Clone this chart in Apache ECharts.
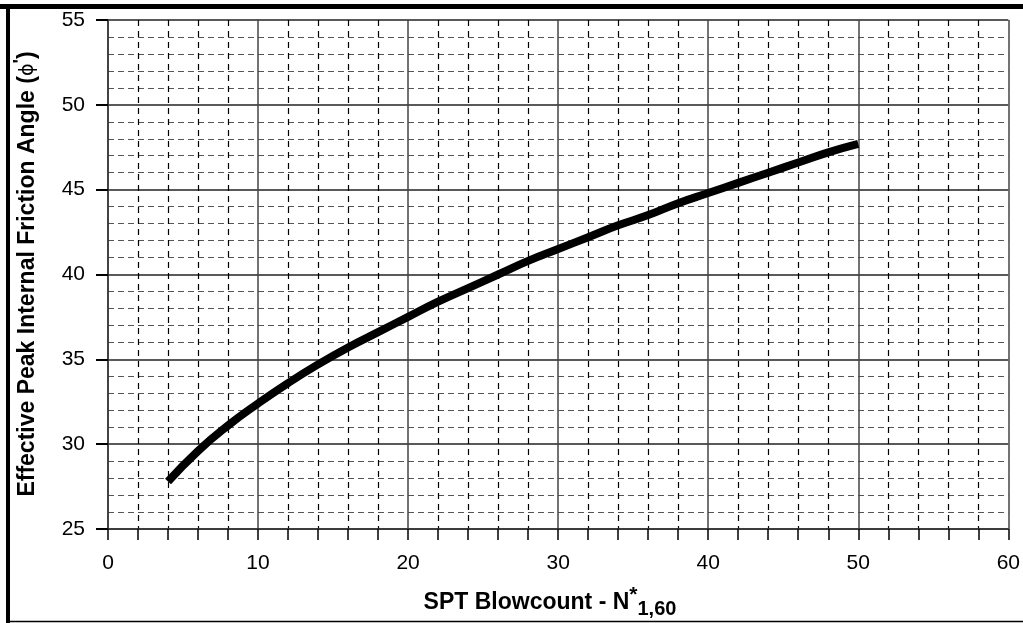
<!DOCTYPE html>
<html>
<head>
<meta charset="utf-8">
<script src="https://cdn.jsdelivr.net/npm/echarts@6/dist/echarts.min.js"></script>
<style>
html,body{margin:0;padding:0;background:#fff;}
#c{width:1023px;height:623px;}
</style>
</head>
<body>
<div id="c"></div>
<script>
var blowcount = [4, 6, 8, 10, 12, 14, 16, 18, 20, 22, 24, 26, 28, 30, 32, 34, 36, 38, 40, 42, 44, 46, 48, 50];
var frictionAngle = [27.8, 29.6, 31.1, 32.4, 33.6, 34.7, 35.7, 36.6, 37.5, 38.4, 39.2, 40.0, 40.8, 41.5, 42.2, 42.9, 43.5, 44.2, 44.8, 45.4, 46.0, 46.6, 47.2, 47.7];
var xTicks = [0, 10, 20, 30, 40, 50, 60];
var yTicks = [25, 30, 35, 40, 45, 50, 55];

var chart = echarts.init(document.getElementById('c'), null, {renderer: 'canvas'});
var pts = blowcount.map(function (v, i) { return [v, frictionAngle[i]]; });
var FONT = 'Liberation Sans, Arial, sans-serif';

chart.setOption({
  animation: false,
  backgroundColor: '#fff',
  grid: {left: 108, right: 12, top: 20, bottom: 94, containLabel: false},
  xAxis: {
    type: 'value', min: xTicks[0], max: xTicks[xTicks.length - 1], interval: 10,
    axisLine: {show: true, onZero: false, lineStyle: {color: '#333', width: 1.5}},
    axisTick: {show: true, inside: false, length: 11, lineStyle: {color: '#000', width: 1.5}},
    minorTick: {show: true, splitNumber: 5, length: 11, lineStyle: {color: '#000', width: 1.5}},
    axisLabel: {margin: 24, fontSize: 21, color: '#000', fontFamily: FONT},
    splitLine: {show: true, lineStyle: {color: '#444', width: 1.5}},
    minorSplitLine: {show: true, lineStyle: {color: '#000', width: 1.2, type: [6, 5]}}
  },
  yAxis: {
    type: 'value', min: yTicks[0], max: yTicks[yTicks.length - 1], interval: 5,
    axisLine: {show: true, onZero: false, lineStyle: {color: '#333', width: 1.5}},
    axisTick: {show: true, inside: false, length: 12, lineStyle: {color: '#000', width: 2}},
    minorTick: {show: false, splitNumber: 5},
    axisLabel: {margin: 23, fontSize: 21, color: '#000', fontFamily: FONT},
    splitLine: {show: true, lineStyle: {color: '#222', width: 1.5}},
    minorSplitLine: {show: true, lineStyle: {color: '#555', width: 1.2, type: [6, 4]}}
  },
  series: [{
    type: 'line', data: pts, showSymbol: false, smooth: true,
    lineStyle: {color: '#000', width: 8, cap: 'butt'}
  }],
  graphic: [
    {type: 'line', shape: {x1: 0, y1: 6.5, x2: 1023, y2: 6.5}, style: {stroke: '#000', lineWidth: 5}, z: 100},
    {type: 'line', shape: {x1: 8, y1: 4, x2: 8, y2: 623}, style: {stroke: '#000', lineWidth: 4}, z: 100},
    {type: 'line', shape: {x1: 6, y1: 621.5, x2: 1023, y2: 621.5}, style: {stroke: '#000', lineWidth: 1.5}, z: 100},
    {type: 'text', x: 550, y: 603, style: {
      text: '{a|SPT Blowcount - N}{sup|*}{sub|1,60}',
      align: 'center', verticalAlign: 'middle',
      rich: {
        a: {fontSize: 23, fontWeight: 'bold', fontFamily: FONT, fill: '#000', height: 26, verticalAlign: 'middle'},
        sup: {fontSize: 21, fontWeight: 'bold', fontFamily: FONT, fill: '#000', padding: [0, 0, 16, 0], verticalAlign: 'middle'},
        sub: {fontSize: 20, fontWeight: 'bold', fontFamily: FONT, fill: '#000', padding: [12, 0, 0, 0], verticalAlign: 'middle'}
      }
    }},
    {type: 'text', x: 28, y: 274, rotation: Math.PI / 2, style: {
      text: '{a|Effective Peak Internal Friction Angle (}{phi|ϕ}{sup|\'}{a|)}',
      align: 'center', verticalAlign: 'middle',
      rich: {
        a: {fontSize: 23, fontWeight: 'bold', fontFamily: FONT, fill: '#000'},
        phi: {fontSize: 19, fontWeight: 'normal', fontFamily: 'DejaVu Sans', fill: '#000'},
        sup: {fontSize: 19, fontWeight: 'bold', fontFamily: FONT, fill: '#000', padding: [0, 0, 14, 0]}
      }
    }}
  ]
});
</script>
</body>
</html>
